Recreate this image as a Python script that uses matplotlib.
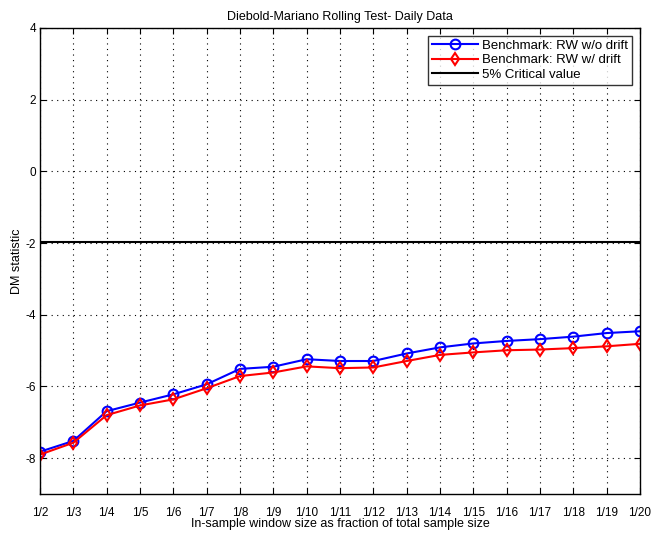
import matplotlib
matplotlib.use("Agg")
import matplotlib.pyplot as plt

plt.rcParams['font.family'] = ['Liberation Sans', 'DejaVu Sans']

labels = ["1/2", "1/3", "1/4", "1/5", "1/6", "1/7", "1/8", "1/9", "1/10", "1/11",
          "1/12", "1/13", "1/14", "1/15", "1/16", "1/17", "1/18", "1/19", "1/20"]
rw_no_drift = [-7.82, -7.52, -6.69, -6.45, -6.22, -5.94, -5.51, -5.45, -5.24, -5.29,
               -5.29, -5.08, -4.91, -4.80, -4.73, -4.68, -4.61, -4.51, -4.46]
rw_drift = [-7.90, -7.57, -6.80, -6.53, -6.36, -6.05, -5.71, -5.61, -5.44, -5.49,
            -5.47, -5.29, -5.12, -5.05, -4.99, -4.97, -4.93, -4.88, -4.81]
critical_value = -1.96
yticks = [-8, -6, -4, -2, 0, 2, 4]

fig = plt.figure(figsize=(6.52, 5.33), dpi=100)
ax = fig.add_axes([40/652, 1-494/533, 600/652, (494-28)/533])

x = list(range(1, len(labels)+1))
ax.plot(x, rw_no_drift, '-o', color='blue', lw=1.5, ms=7, mfc='none', mew=1.5,
        label='Benchmark: RW w/o drift')
ax.plot(x, rw_drift, '-d', color='red', lw=1.5, ms=6.5, mfc='none', mew=1.5,
        label='Benchmark: RW w/ drift')
ax.axhline(critical_value, color='black', lw=1.5, label='5% Critical value')

ax.set_xlim(1, len(labels))
ax.set_ylim(-9, 4)
ax.set_xticks(x)
ax.set_xticklabels(labels, fontsize=8.5)
ax.set_yticks(yticks)
ax.set_yticklabels([str(v) for v in yticks], fontsize=8.5)
ax.tick_params(direction='in', top=True, right=True, length=4, width=0.8)
ax.tick_params(axis='x', pad=9)
ax.tick_params(axis='y', pad=3)
ax.grid(True, linestyle=(0, (1, 4)), color='black', lw=0.8)
for s in ax.spines.values():
    s.set_linewidth(1.0)

ax.set_title('Diebold-Mariano Rolling Test- Daily Data', fontsize=9, pad=6)
ax.set_xlabel('In-sample window size as fraction of total sample size', fontsize=9, labelpad=0)
ax.set_ylabel('DM statistic', fontsize=9, labelpad=2)

leg = ax.legend(loc='upper right', fontsize=9.5, frameon=True, fancybox=False,
                edgecolor='black', borderaxespad=0.6, handlelength=3.5,
                labelspacing=0.15, borderpad=0.3, handletextpad=0.3)
leg.get_frame().set_linewidth(1.0)

fig.savefig('out.png', dpi=100)
